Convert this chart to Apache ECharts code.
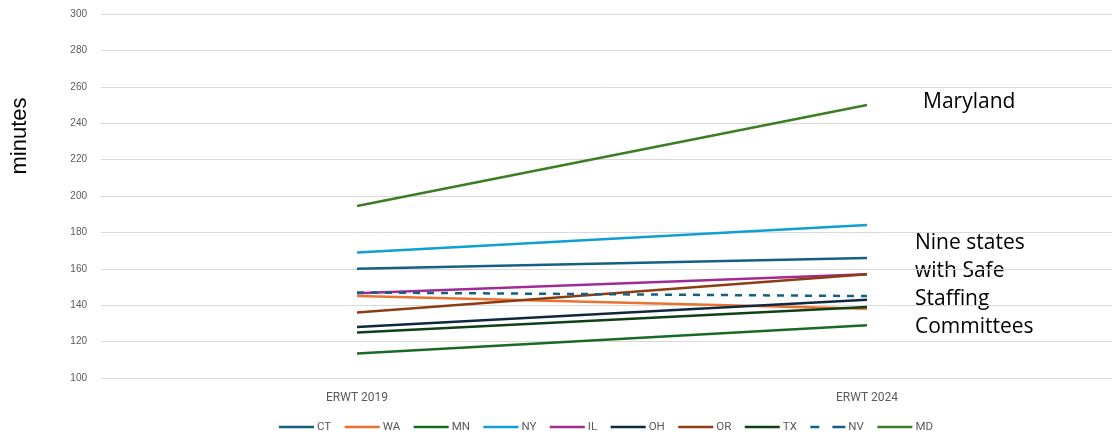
<!DOCTYPE html>
<html><head><meta charset="utf-8">
<script src="https://cdn.jsdelivr.net/npm/echarts@6/dist/echarts.min.js"></script>
<style>html,body{margin:0;padding:0;background:#fff}#c{width:1112px;height:432px}</style>
</head><body><div id="c"></div>
<script>
const categories = ['ERWT 2019', 'ERWT 2024'];
const CT = [160, 166];
const WA = [145, 138];
const MN = [113.5, 129];
const NY = [169, 184];
const IL = [146.5, 157];
const OH = [128, 143];
const OR = [136, 157];
const TX = [125, 139];
const NV = [147, 145];
const MD = [194.5, 250];
const seriesNames = ['CT','WA','MN','NY','IL','OH','OR','TX','NV','MD'];
const seriesData = [CT, WA, MN, NY, IL, OH, OR, TX, NV, MD];
const colors = ['#156082','#E97132','#196B24','#0F9ED5','#A02B93','#0E2841','#8E3C12','#0F4016','#156082','#3B7D23'];
const yTicks = [100, 300, 20];

const solidIcon = 'path://M0,0 L35,0 L35,2.5 L0,2.5 Z';
const dashIcon = 'path://M0,0 L9,0 L9,2.5 L0,2.5 Z M22,0 L35,0 L35,2.5 L22,2.5 Z';

const chart = echarts.init(document.getElementById('c'));
chart.setOption({
  animation: false,
  grid: [
    { left: 101, top: 14, right: 0, height: 364, containLabel: false },
    { left: 357, top: 14, right: 245, height: 364, containLabel: false }
  ],
  xAxis: [
    { gridIndex: 0, type: 'category', data: categories, show: false },
    {
      gridIndex: 1, type: 'category', data: categories, boundaryGap: false,
      axisLine: { show: false }, axisTick: { show: false }, splitLine: { show: false },
      axisLabel: { color: '#595959', fontSize: 12, fontFamily: 'Roboto', margin: 14, interval: 0 }
    }
  ],
  yAxis: [
    {
      gridIndex: 0, type: 'value', min: yTicks[0], max: yTicks[1], interval: yTicks[2],
      axisLine: { show: false }, axisTick: { show: false },
      axisLabel: { color: '#595959', fontSize: 10, fontFamily: 'Liberation Sans', margin: 14 },
      splitLine: { lineStyle: { color: '#D9D9D9', width: 1 } }
    },
    {
      gridIndex: 1, type: 'value', min: yTicks[0], max: yTicks[1], interval: yTicks[2],
      show: false, splitLine: { show: false }
    }
  ],
  legend: {
    bottom: -6, left: 274, itemWidth: 35, itemHeight: 10, itemGap: 13.5,
    textStyle: { color: '#595959', fontSize: 11.5, fontFamily: 'Roboto', padding: [0, 0, 0, -2] },
    data: seriesNames.map(n => ({ name: n, icon: n === 'NV' ? dashIcon : solidIcon }))
  },
  series: seriesNames.map((n, i) => ({
    name: n, type: 'line', data: seriesData[i], symbol: 'none',
    xAxisIndex: 1, yAxisIndex: 1,
    lineStyle: { color: colors[i], width: 2.5, type: n === 'NV' ? [7, 7] : 'solid' },
    itemStyle: { color: colors[i] },
    z: n === 'NV' ? 5 : 2
  })),
  graphic: [
    { type: 'text', x: 20, y: 136, rotation: Math.PI / 2, style: { text: 'minutes', fontSize: 22, fontFamily: 'Liberation Sans', fill: '#000', align: 'center', verticalAlign: 'middle' } },
    { type: 'text', left: 923, top: 92, style: { text: 'Maryland', fontSize: 21, fontFamily: 'Open Sans', fill: '#000' } },
    { type: 'text', left: 915, top: 229, style: { text: 'Nine states\nwith Safe\nStaffing\nCommittees', fontSize: 21, lineHeight: 28, fontFamily: 'Open Sans', fill: '#000' } }
  ]
});
</script></body></html>
